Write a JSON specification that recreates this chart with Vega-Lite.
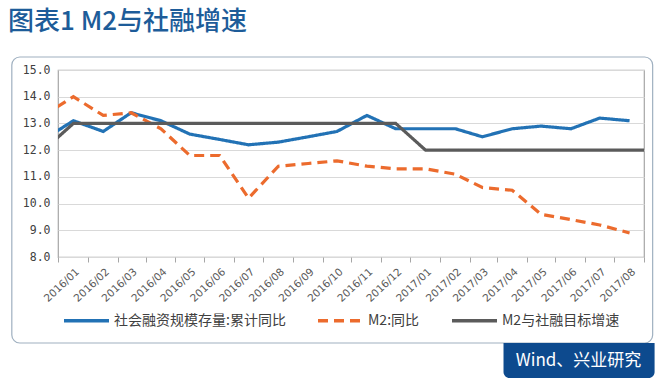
{
  "$schema": "https://vega.github.io/schema/vega-lite/v6.json",
  "width": 586,
  "height": 187,
  "autosize": "none",
  "padding": {"left": 58, "top": 70, "right": 16, "bottom": 126},
  "background": "white",
  "config": {"view": {"stroke": "#a6a6a6", "strokeWidth": 1.2, "fill": "white"}, "font": "Noto Sans CJK SC"},
  "title": {"text": "图表1 M2与社融增速", "anchor": "start", "frame": "group", "dx": -50, "offset": 21, "font": "Noto Sans CJK SC", "fontSize": 26, "fontWeight": 500, "color": "#1d5c99", "limit": 600},
  "data": {"values": [
    {"month": "2015-12-01", "series": "社会融资规模存量:累计同比", "value": 12.4},
    {"month": "2016-01-01", "series": "社会融资规模存量:累计同比", "value": 13.1},
    {"month": "2016-02-01", "series": "社会融资规模存量:累计同比", "value": 12.7},
    {"month": "2016-03-01", "series": "社会融资规模存量:累计同比", "value": 13.4},
    {"month": "2016-04-01", "series": "社会融资规模存量:累计同比", "value": 13.1},
    {"month": "2016-05-01", "series": "社会融资规模存量:累计同比", "value": 12.6},
    {"month": "2016-06-01", "series": "社会融资规模存量:累计同比", "value": 12.4},
    {"month": "2016-07-01", "series": "社会融资规模存量:累计同比", "value": 12.2},
    {"month": "2016-08-01", "series": "社会融资规模存量:累计同比", "value": 12.3},
    {"month": "2016-09-01", "series": "社会融资规模存量:累计同比", "value": 12.5},
    {"month": "2016-10-01", "series": "社会融资规模存量:累计同比", "value": 12.7},
    {"month": "2016-11-01", "series": "社会融资规模存量:累计同比", "value": 13.3},
    {"month": "2016-12-01", "series": "社会融资规模存量:累计同比", "value": 12.8},
    {"month": "2017-01-01", "series": "社会融资规模存量:累计同比", "value": 12.8},
    {"month": "2017-02-01", "series": "社会融资规模存量:累计同比", "value": 12.8},
    {"month": "2017-03-01", "series": "社会融资规模存量:累计同比", "value": 12.5},
    {"month": "2017-04-01", "series": "社会融资规模存量:累计同比", "value": 12.8},
    {"month": "2017-05-01", "series": "社会融资规模存量:累计同比", "value": 12.9},
    {"month": "2017-06-01", "series": "社会融资规模存量:累计同比", "value": 12.8},
    {"month": "2017-07-01", "series": "社会融资规模存量:累计同比", "value": 13.2},
    {"month": "2017-08-01", "series": "社会融资规模存量:累计同比", "value": 13.1},
    {"month": "2015-12-01", "series": "M2:同比", "value": 13.3},
    {"month": "2016-01-01", "series": "M2:同比", "value": 14.0},
    {"month": "2016-02-01", "series": "M2:同比", "value": 13.3},
    {"month": "2016-03-01", "series": "M2:同比", "value": 13.4},
    {"month": "2016-04-01", "series": "M2:同比", "value": 12.8},
    {"month": "2016-05-01", "series": "M2:同比", "value": 11.8},
    {"month": "2016-06-01", "series": "M2:同比", "value": 11.8},
    {"month": "2016-07-01", "series": "M2:同比", "value": 10.2},
    {"month": "2016-08-01", "series": "M2:同比", "value": 11.4},
    {"month": "2016-09-01", "series": "M2:同比", "value": 11.5},
    {"month": "2016-10-01", "series": "M2:同比", "value": 11.6},
    {"month": "2016-11-01", "series": "M2:同比", "value": 11.4},
    {"month": "2016-12-01", "series": "M2:同比", "value": 11.3},
    {"month": "2017-01-01", "series": "M2:同比", "value": 11.3},
    {"month": "2017-02-01", "series": "M2:同比", "value": 11.1},
    {"month": "2017-03-01", "series": "M2:同比", "value": 10.6},
    {"month": "2017-04-01", "series": "M2:同比", "value": 10.5},
    {"month": "2017-05-01", "series": "M2:同比", "value": 9.6},
    {"month": "2017-06-01", "series": "M2:同比", "value": 9.4},
    {"month": "2017-07-01", "series": "M2:同比", "value": 9.2},
    {"month": "2017-08-01", "series": "M2:同比", "value": 8.9},
    {"month": "2015-12-01", "series": "M2与社融目标增速", "value": 12.0},
    {"month": "2016-01-01", "series": "M2与社融目标增速", "value": 13.0},
    {"month": "2016-02-01", "series": "M2与社融目标增速", "value": 13.0},
    {"month": "2016-03-01", "series": "M2与社融目标增速", "value": 13.0},
    {"month": "2016-04-01", "series": "M2与社融目标增速", "value": 13.0},
    {"month": "2016-05-01", "series": "M2与社融目标增速", "value": 13.0},
    {"month": "2016-06-01", "series": "M2与社融目标增速", "value": 13.0},
    {"month": "2016-07-01", "series": "M2与社融目标增速", "value": 13.0},
    {"month": "2016-08-01", "series": "M2与社融目标增速", "value": 13.0},
    {"month": "2016-09-01", "series": "M2与社融目标增速", "value": 13.0},
    {"month": "2016-10-01", "series": "M2与社融目标增速", "value": 13.0},
    {"month": "2016-11-01", "series": "M2与社融目标增速", "value": 13.0},
    {"month": "2016-12-01", "series": "M2与社融目标增速", "value": 13.0},
    {"month": "2017-01-01", "series": "M2与社融目标增速", "value": 12.0},
    {"month": "2017-02-01", "series": "M2与社融目标增速", "value": 12.0},
    {"month": "2017-03-01", "series": "M2与社融目标增速", "value": 12.0},
    {"month": "2017-04-01", "series": "M2与社融目标增速", "value": 12.0},
    {"month": "2017-05-01", "series": "M2与社融目标增速", "value": 12.0},
    {"month": "2017-06-01", "series": "M2与社融目标增速", "value": 12.0},
    {"month": "2017-07-01", "series": "M2与社融目标增速", "value": 12.0},
    {"month": "2017-08-01", "series": "M2与社融目标增速", "value": 12.0},
    {"month": "2017-09-01", "series": "M2与社融目标增速", "value": 12.0}
  ]},
  "layer": [
    {
      "data": {"values": [{}]},
      "mark": {"type": "rect", "fill": "transparent", "stroke": "#9fb0c0", "strokeWidth": 1.2, "cornerRadius": 8},
      "encoding": {
        "x": {"datum": {"year": 2015, "month": 10, "date": 29, "utc": true}, "type": "temporal",
          "scale": {"type": "utc", "domain": [{"year": 2015, "month": 12, "date": 16, "utc": true}, {"year": 2017, "month": 8, "date": 16, "utc": true}]},
          "axis": {"orient": "bottom", "labels": false, "domain": false, "grid": false, "ticks": true, "tickSize": 5, "tickColor": "#a6a6a6", "tickWidth": 1, "title": null,
            "values": [
              {"year": 2015, "month": 12, "date": 16, "utc": true},
              {"year": 2016, "month": 1, "date": 16, "utc": true},
              {"year": 2016, "month": 2, "date": 16, "utc": true},
              {"year": 2016, "month": 3, "date": 16, "utc": true},
              {"year": 2016, "month": 4, "date": 16, "utc": true},
              {"year": 2016, "month": 5, "date": 16, "utc": true},
              {"year": 2016, "month": 6, "date": 16, "utc": true},
              {"year": 2016, "month": 7, "date": 16, "utc": true},
              {"year": 2016, "month": 8, "date": 16, "utc": true},
              {"year": 2016, "month": 9, "date": 16, "utc": true},
              {"year": 2016, "month": 10, "date": 16, "utc": true},
              {"year": 2016, "month": 11, "date": 16, "utc": true},
              {"year": 2016, "month": 12, "date": 16, "utc": true},
              {"year": 2017, "month": 1, "date": 16, "utc": true},
              {"year": 2017, "month": 2, "date": 16, "utc": true},
              {"year": 2017, "month": 3, "date": 16, "utc": true},
              {"year": 2017, "month": 4, "date": 16, "utc": true},
              {"year": 2017, "month": 5, "date": 16, "utc": true},
              {"year": 2017, "month": 6, "date": 16, "utc": true},
              {"year": 2017, "month": 7, "date": 16, "utc": true},
              {"year": 2017, "month": 8, "date": 16, "utc": true}
            ]}},
        "x2": {"datum": {"year": 2017, "month": 8, "date": 25, "utc": true}},
        "y": {"datum": 15.487, "type": "quantitative", "scale": {"domain": [8, 15], "nice": false, "zero": false}, "axis": null},
        "y2": {"datum": 4.78}
      }
    },
    {
      "mark": {"type": "line", "clip": true, "strokeWidth": 3.2},
      "encoding": {
        "x": {"field": "month", "type": "temporal",
          "scale": {"type": "utc", "domain": [{"year": 2015, "month": 12, "date": 16, "utc": true}, {"year": 2017, "month": 8, "date": 16, "utc": true}]},
          "axis": {"orient": "bottom", "labelExpr": "utcFormat(datum.value, '%Y/%m')", "tickCount": {"interval": "month", "step": 1}, "labelAngle": -43, "labelAlign": "right", "labelBaseline": "middle", "labelPadding": 13, "labelOffset": 4, "ticks": false, "domain": false, "grid": false, "title": null, "labelFont": "DejaVu Sans", "labelFontSize": 10.5, "labelColor": "#595959", "labelOverlap": false}},
        "y": {"field": "value", "type": "quantitative", "scale": {"domain": [8, 15], "nice": false, "zero": false},
          "axis": {"values": [8, 9, 10, 11, 12, 13, 14, 15], "format": ".1f", "grid": true, "gridColor": "#d9d9d9", "gridWidth": 1.2, "domain": false, "ticks": false, "labelPadding": 8, "labelFont": "DejaVu Sans Mono", "labelFontSize": 11.5, "labelColor": "#404040", "title": null}},
        "color": {"field": "series", "type": "nominal",
          "scale": {"domain": ["社会融资规模存量:累计同比", "M2:同比", "M2与社融目标增速"], "range": ["#2272b5", "#ec6b2d", "#5b5b5b"]},
          "legend": {"orient": "none", "legendX": 4, "legendY": 226, "direction": "horizontal", "title": null, "symbolType": "stroke", "symbolSize": 2025, "symbolStrokeWidth": 3.5, "labelFont": "Noto Sans CJK SC", "labelFontSize": 14, "labelColor": "#404040", "labelLimit": 400, "columnPadding": 25, "labelOffset": 3}},
        "strokeDash": {"field": "series", "type": "nominal",
          "scale": {"domain": ["社会融资规模存量:累计同比", "M2:同比", "M2与社融目标增速"], "range": [[1, 0], [10, 6], [1, 0]]},
          "legend": {"orient": "none", "legendX": 4, "legendY": 226, "direction": "horizontal", "title": null, "symbolType": "stroke", "symbolSize": 2025, "symbolStrokeWidth": 3.5, "labelFont": "Noto Sans CJK SC", "labelFontSize": 14, "labelColor": "#404040", "labelLimit": 400, "columnPadding": 25, "labelOffset": 3}}
      }
    },
    {
      "data": {"values": [{"source": "Wind、兴业研究"}]},
      "mark": {"type": "rect", "fill": "#0d4a8e", "cornerRadiusBottomLeft": 6, "cornerRadiusBottomRight": 6},
      "encoding": {
        "x": {"datum": {"year": 2017, "month": 3, "date": 23, "utc": true}, "type": "temporal", "axis": null},
        "x2": {"datum": {"year": 2017, "month": 8, "date": 27, "utc": true}},
        "y": {"datum": 4.78, "type": "quantitative", "axis": null},
        "y2": {"datum": 3.47}
      }
    },
    {
      "data": {"values": [{"source": "Wind、兴业研究"}]},
      "mark": {"type": "text", "color": "white", "fontSize": 17, "font": "Noto Sans CJK SC", "align": "center", "baseline": "middle"},
      "encoding": {
        "x": {"datum": {"year": 2017, "month": 6, "date": 9, "utc": true}, "type": "temporal", "axis": null},
        "y": {"datum": 4.107, "type": "quantitative", "axis": null},
        "text": {"field": "source"}
      }
    }
  ],
  "resolve": {"axis": {"x": "independent", "y": "independent"}}
}
